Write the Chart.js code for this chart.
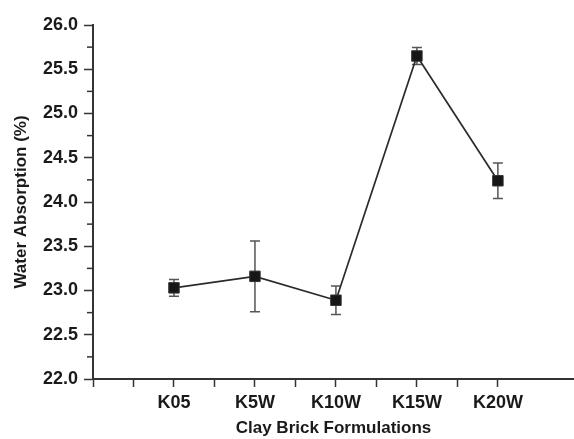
<!DOCTYPE html>
<html>
<head>
<meta charset="utf-8">
<title>Water Absorption</title>
<script src="https://cdn.jsdelivr.net/npm/chart.js@4.4.1/dist/chart.umd.min.js"></script>
<style>
  html, body { margin: 0; padding: 0; background: #fff; }
  #wrap { width: 574px; height: 439px; }
</style>
</head>
<body>
<div id="wrap"><canvas id="absChart" width="574" height="439"></canvas></div>
<script>
// Donnees
const categories = ["K05", "K5W", "K10W", "K15W", "K20W"];
const absorption = [23.03, 23.16, 22.89, 25.65, 24.24];
const errors = [0.095, 0.40, 0.16, 0.095, 0.20];

const ink = "#1a1a1a";
const axisColor = "#333";
const fontFamily = "'Liberation Sans', Arial, sans-serif";

// Barres d'erreur
const errorBars = {
  id: "errorBars",
  beforeDatasetsDraw(chart) {
    const x = chart.scales.x, y = chart.scales.y, ctx = chart.ctx;
    ctx.save();
    ctx.strokeStyle = "#555";
    ctx.lineWidth = 1.5;
    absorption.forEach((v, i) => {
      const px = x.getPixelForValue(i);
      const top = y.getPixelForValue(v + errors[i]);
      const bot = y.getPixelForValue(v - errors[i]);
      ctx.beginPath();
      ctx.moveTo(px, top); ctx.lineTo(px, bot);
      ctx.moveTo(px - 5, top); ctx.lineTo(px + 5, top);
      ctx.moveTo(px - 5, bot); ctx.lineTo(px + 5, bot);
      ctx.stroke();
    });
    ctx.restore();
  }
};

// Petites graduations sur l'axe Y
const minorTicks = {
  id: "minorTicks",
  afterDraw(chart) {
    const y = chart.scales.y, ctx = chart.ctx;
    const left = chart.chartArea.left;
    ctx.save();
    ctx.strokeStyle = axisColor;
    ctx.lineWidth = 1.5;
    y.ticks.forEach(t => {
      if (Math.abs(t.value * 2 - Math.round(t.value * 2)) < 1e-6) return;
      const py = y.getPixelForValue(t.value);
      ctx.beginPath();
      ctx.moveTo(left - 6, py); ctx.lineTo(left, py);
      ctx.stroke();
    });
    ctx.restore();
  }
};

new Chart(document.getElementById("absChart"), {
  type: "line",
  data: {
    datasets: [{
      label: "Water Absorption",
      data: absorption.map((v, i) => ({ x: i, y: v })),
      borderColor: "#2b2b2b",
      borderWidth: 1.7,
      tension: 0,
      pointStyle: "rect",
      pointRadius: 7.4,
      pointHoverRadius: 7.4,
      pointBackgroundColor: "#161616",
      pointBorderColor: "#333",
      pointBorderWidth: 1
    }]
  },
  options: {
    responsive: false,
    animation: false,
    events: [],
    layout: { autoPadding: false, padding: { top: 25, right: 0, bottom: 0, left: 0 } },
    plugins: { legend: { display: false }, tooltip: { enabled: false } },
    scales: {
      x: {
        type: "linear",
        min: -1,
        max: 4.94,
        afterFit: s => { s.height = 60; },
        afterBuildTicks: s => {
          s.ticks = s.ticks.filter(t =>
            Math.abs(t.value * 2 - Math.round(t.value * 2)) < 1e-6 && t.value <= 4.5);
        },
        border: { display: true, color: axisColor, width: 2 },
        grid: { drawOnChartArea: false, tickLength: 8, tickColor: axisColor, tickWidth: 1.5 },
        ticks: {
          stepSize: 0.5,
          autoSkip: false,
          maxRotation: 0,
          padding: 5,
          color: ink,
          font: { family: fontFamily, size: 18, weight: "bold" },
          callback: v => (Number.isInteger(v) && categories[v]) ? categories[v] : ""
        },
        title: {
          display: true,
          text: "Clay Brick Formulations",
          color: ink,
          padding: { top: 0, bottom: 0 },
          font: { family: fontFamily, size: 17, weight: "bold" }
        }
      },
      y: {
        min: 22,
        max: 26,
        afterFit: s => { s.width = 93; },
        border: { display: true, color: axisColor, width: 2 },
        grid: {
          drawOnChartArea: false,
          tickLength: 9,
          tickWidth: 1.5,
          tickColor: c => (Math.abs(c.tick.value * 2 - Math.round(c.tick.value * 2)) < 1e-6) ? axisColor : "rgba(0,0,0,0)"
        },
        ticks: {
          stepSize: 0.25,
          autoSkip: false,
          padding: 6,
          color: ink,
          font: { family: fontFamily, size: 18, weight: "bold" },
          callback: v => (Math.abs(v * 2 - Math.round(v * 2)) < 1e-6) ? v.toFixed(1) : ""
        },
        title: {
          display: true,
          text: "Water Absorption (%)",
          color: ink,
          padding: { top: 11, bottom: 0 },
          font: { family: fontFamily, size: 17, weight: "bold" }
        }
      }
    }
  },
  plugins: [errorBars, minorTicks]
});
</script>
</body>
</html>
